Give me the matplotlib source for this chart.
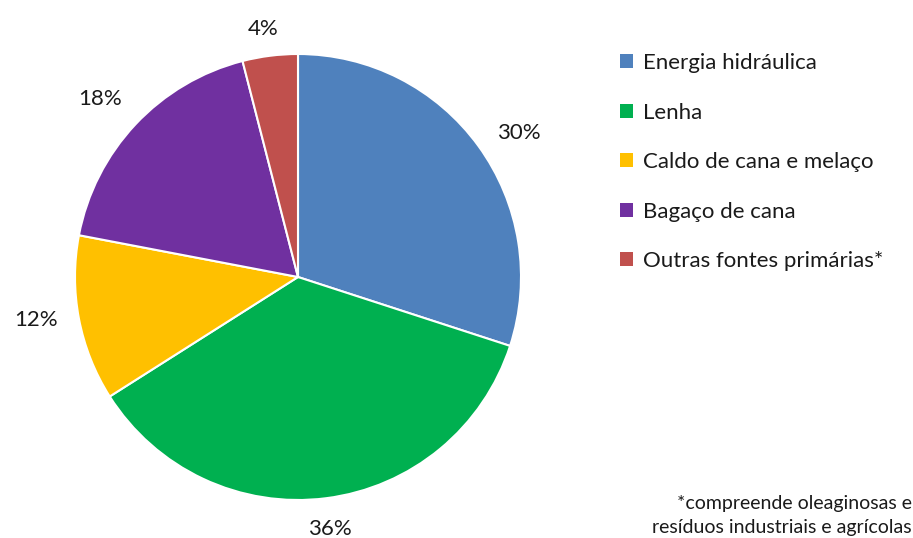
import numpy as np
import matplotlib
matplotlib.use("Agg")
import matplotlib.pyplot as plt
from matplotlib.patches import Patch

categories = ["Energia hidráulica", "Lenha", "Caldo de cana e melaço", "Bagaço de cana", "Outras fontes primárias*"]
values = [30, 36, 12, 18, 4]
colors = ["#4F81BD", "#00B050", "#FFC000", "#7030A0", "#C0504D"]
footnote = ["*compreende oleaginosas e", "resíduos industriais e agrícolas"]
label_dist = [1.19, 1.13, 1.19, 1.20, 1.13]
label_ang_off = [-2.5, 0.0, -1.9, 0.9, 0.8]

plt.rcParams['font.family'] = ['Lato', 'DejaVu Sans']

fig = plt.figure(figsize=(9.13, 5.38), dpi=100)
W, H = 913, 538
cx, cy, r = 298, 277, 223
ax = fig.add_axes([(cx - r) / W, (H - cy - r) / H, 2 * r / W, 2 * r / H])
wedges, texts, autotexts = ax.pie(values, colors=colors, startangle=90, counterclock=False, radius=1,
       autopct=lambda p: f"{p:.0f}%", pctdistance=1.16,
       wedgeprops=dict(edgecolor="white", linewidth=1.5),
       textprops=dict(fontsize=16, color="#1a1a1a"))
for w, t, d, o in zip(wedges, autotexts, label_dist, label_ang_off):
    ang = np.deg2rad((w.theta1 + w.theta2) / 2 + o)
    t.set_position((d * np.cos(ang), d * np.sin(ang)))
    t.set_va('center_baseline')
ax.set_xlim(-1, 1)
ax.set_ylim(-1, 1)
ax.set_aspect('equal')
ax.axis('off')

handles = [Patch(facecolor=c, edgecolor='none') for c in colors]
fig.legend(handles, categories, loc='upper left', bbox_to_anchor=(620 / W, 1 - 53 / H),
           frameon=False, fontsize=16, handlelength=0.6, handleheight=0.6,
           handletextpad=0.45, labelspacing=1.33, borderaxespad=0, borderpad=0,
           labelcolor="#1a1a1a")

fig.text(912 / W, 1 - 503 / H, footnote[0], ha='right', va='center', fontsize=14, color="#1a1a1a")
fig.text(912 / W, 1 - 527 / H, footnote[1], ha='right', va='center', fontsize=14, color="#1a1a1a")

fig.savefig("out.png", dpi=100)
